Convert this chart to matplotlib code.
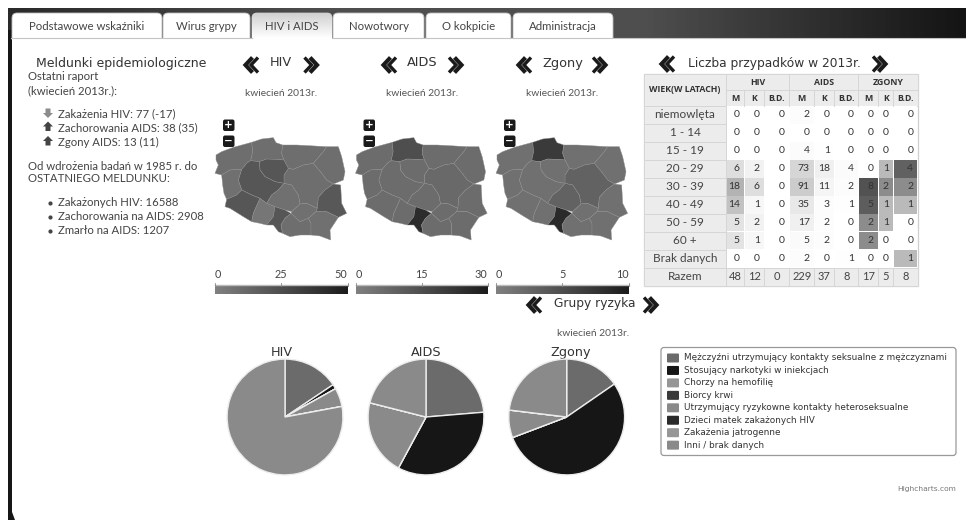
import numpy as np
import matplotlib
matplotlib.use("Agg")
import matplotlib.pyplot as plt
from matplotlib.patches import Rectangle, FancyBboxPatch, Polygon
from matplotlib.colors import LinearSegmentedColormap

UI_FONT = "Lato"
HEAD_FONT = "DejaVu Sans"

tabs = ["Podstawowe wskaźniki", "Wirus grypy", "HIV i AIDS", "Nowotwory", "O kokpicie", "Administracja"]
tab_edges = [(12, 162), (163, 250), (252, 332), (333, 424), (426, 511), (513, 613)]

period = "kwiecień 2013r."
map_titles = ["HIV", "AIDS", "Zgony"]
map_scale_max = [50, 30, 10]

# voivodeship outlines, in map units
regions = {
    "zachodniopomorskie": [(18,135),(35,125),(70,112),(125,97),(128,125),(122,152),(112,158),(95,178),(60,180),(35,195),(15,190),(25,165),(18,150)],
    "pomorskie": [(125,97),(155,87),(190,83),(198,98),(218,105),(215,130),(222,150),(195,148),(170,147),(148,155),(122,152),(128,125)],
    "warminsko-mazurskie": [(218,105),(260,105),(350,110),(340,125),(310,160),(280,165),(250,178),(235,175),(222,150),(215,130)],
    "podlaskie": [(350,110),(385,110),(395,140),(405,185),(400,210),(370,222),(350,210),(335,190),(310,160),(340,125)],
    "mazowieckie": [(235,175),(250,178),(280,165),(310,160),(335,190),(350,210),(370,222),(345,240),(325,262),(322,295),(290,280),(270,282),(265,255),(245,225),(222,220),(222,195)],
    "kujawsko-pomorskie": [(148,155),(170,147),(195,148),(222,150),(235,175),(222,195),(222,220),(195,215),(165,200),(150,180)],
    "wielkopolskie": [(122,152),(148,155),(150,180),(165,200),(195,215),(222,220),(205,240),(185,255),(170,280),(150,265),(125,255),(95,240),(85,210),(95,178),(112,158)],
    "lubuskie": [(35,195),(60,180),(95,178),(85,210),(95,240),(80,255),(50,268),(42,250),(38,225)],
    "dolnoslaskie": [(50,268),(80,255),(95,240),(125,255),(150,265),(130,310),(125,335),(100,320),(60,295),(45,290)],
    "opolskie": [(150,265),(170,280),(195,290),(190,320),(170,345),(150,340),(125,335),(130,310)],
    "lodzkie": [(222,220),(245,225),(265,255),(270,282),(245,305),(225,300),(195,290),(170,280),(185,255),(205,240)],
    "slaskie": [(195,290),(225,300),(243,310),(225,325),(213,345),(218,370),(205,365),(190,345),(170,345),(190,320)],
    "swietokrzyskie": [(270,282),(290,280),(322,295),(318,305),(295,325),(270,335),(243,310),(245,305)],
    "malopolskie": [(213,345),(225,325),(243,310),(270,335),(295,325),(303,340),(303,375),(270,375),(240,380),(218,370)],
    "lubelskie": [(370,222),(392,225),(395,280),(410,310),(385,322),(350,305),(318,305),(322,295),(325,262),(345,240)],
    "podkarpackie": [(295,325),(318,305),(350,305),(385,322),(360,360),(362,390),(330,378),(303,375),(303,340)],
}

# cases per voivodeship
hiv_map = {"zachodniopomorskie": 9, "pomorskie": 9, "warminsko-mazurskie": 9, "podlaskie": 9, "mazowieckie": 9,
           "kujawsko-pomorskie": 21, "wielkopolskie": 21, "lubuskie": 8, "dolnoslaskie": 21, "opolskie": 5,
           "lodzkie": 8, "slaskie": 21, "swietokrzyskie": 8, "malopolskie": 9, "lubelskie": 20, "podkarpackie": 8}
aids_map = {"zachodniopomorskie": 6, "pomorskie": 15, "warminsko-mazurskie": 6, "podlaskie": 6, "mazowieckie": 7,
            "kujawsko-pomorskie": 6, "wielkopolskie": 6, "lubuskie": 6, "dolnoslaskie": 6, "opolskie": 6,
            "lodzkie": 6, "slaskie": 25, "swietokrzyskie": 6, "malopolskie": 6, "lubelskie": 6, "podkarpackie": 6}
zgony_map = {"zachodniopomorskie": 1.6, "pomorskie": 7, "warminsko-mazurskie": 1.6, "podlaskie": 1.6, "mazowieckie": 3,
             "kujawsko-pomorskie": 1.6, "wielkopolskie": 1.6, "lubuskie": 1.6, "dolnoslaskie": 1.6, "opolskie": 1.6,
             "lodzkie": 3, "slaskie": 8.6, "swietokrzyskie": 1.6, "malopolskie": 1.6, "lubelskie": 1.6, "podkarpackie": 1.6}
map_values = [hiv_map, aids_map, zgony_map]

age_groups = ["niemowlęta", "1 - 14", "15 - 19", "20 - 29", "30 - 39", "40 - 49", "50 - 59", "60 +", "Brak danych"]
hiv_table = [[0,0,0],[0,0,0],[0,0,0],[6,2,0],[18,6,0],[14,1,0],[5,2,0],[5,1,0],[0,0,0]]
aids_table = [[2,0,0],[0,0,0],[4,1,0],[73,18,4],[91,11,2],[35,3,1],[17,2,0],[5,2,0],[2,0,1]]
zgony_table = [[0,0,0],[0,0,0],[0,0,0],[0,1,4],[8,2,2],[5,1,1],[2,1,0],[2,0,0],[0,0,1]]
hiv_total = [48, 12, 0]
aids_total = [229, 37, 8]
zgony_total = [17, 5, 8]

risk_groups = ["Mężczyźni utrzymujący kontakty seksualne z mężczyznami", "Stosujący narkotyki w iniekcjach",
               "Chorzy na hemofilię", "Biorcy krwi", "Utrzymujący ryzykowne kontakty heteroseksualne",
               "Dzieci matek zakażonych HIV", "Zakażenia jatrogenne", "Inni / brak danych"]
risk_colors = ["#6b6b6b", "#161616", "#969696", "#3a3a3a", "#8a8a8a", "#2a2a2a", "#969696", "#8a8a8a"]

# counts per risk group, zero groups included
hiv_pie = [12, 1, 0, 0, 4, 0, 0, 60]
aids_pie = [9, 13, 0, 0, 8, 0, 0, 8]
zgony_pie = [2, 7, 0, 0, 1, 0, 0, 3]

fig = plt.figure(figsize=(9.66, 5.2), dpi=100, facecolor="white")
ax = fig.add_axes([0, 0, 1, 1])


def label(x, y, s, size=8.2, color="#444444", ha="left", font=UI_FONT, **kw):
    ax.text(x, y, s, fontsize=size, color=color, ha=ha, va="center", family=font, zorder=5, **kw)


def chevrons(x, y, direction):
    # direction -1 points left, 1 points right
    for off, lw in [(-3.0, 3.0), (2.5, 2.4)]:
        off = off * -direction
        xs = np.array([x + off - direction * 3.5, x + off + direction * 3.5, x + off - direction * 3.5])
        ax.plot(xs, [y - 7.5, y, y + 7.5], color="#1a1a1a", lw=lw, solid_joinstyle="miter", solid_capstyle="butt", zorder=4)


def gradient(x0, x1, y0, y1, cmap, vertical=False, zorder=3):
    g = np.linspace(0, 1, 256)
    g = g[:, None] if vertical else g[None, :]
    return ax.imshow(g, extent=(x0, x1, y1, y0), cmap=cmap, aspect="auto", zorder=zorder, vmin=0, vmax=1)


# page frame
band = LinearSegmentedColormap.from_list("band", ["#2a2a2a", "#4e4e4e", "#4e4e4e", "#141414"])
gradient(8, 966, 9, 38.5, band, zorder=1)
ax.add_patch(Rectangle((8, 30), 4, 490, fc="#161616", ec="none", zorder=1))
ax.add_patch(Polygon([(12, 512), (15, 520), (12, 520)], closed=True, fc="#161616", ec="none", zorder=3))
ax.add_patch(Rectangle((12, 38), 954, 482, fc="white", ec="none", zorder=2))

# tab strip
active = LinearSegmentedColormap.from_list("active", ["#d0d0d0", "#ffffff"])
for name, (x0, x1) in zip(tabs, tab_edges):
    tab = FancyBboxPatch((x0, 13), x1 - x0, 30, boxstyle="round,pad=0,rounding_size=5",
                         fc="white", ec="#bdbdbd", lw=0.6, zorder=1.5)
    ax.add_patch(tab)
    if name == "HIV i AIDS":
        im = gradient(x0, x1, 13, 38, active, vertical=True, zorder=1.6)
        im.set_clip_path(tab)
    label((x0 + x1) / 2, 26.5, name, size=8.2, ha="center")
ax.plot([11, 252], [38, 38], color="#c4c4c4", lw=0.8, zorder=3)
ax.plot([332, 966], [38, 38], color="#c4c4c4", lw=0.8, zorder=3)

# left column
label(36, 63, "Meldunki epidemiologiczne", size=9, font=HEAD_FONT, color="#333333")
label(28, 76, "Ostatni raport")
label(28, 91, "(kwiecień 2013r.):")
report_rows = ["Zakażenia HIV: 77 (-17)", "Zachorowania AIDS: 38 (35)", "Zgony AIDS: 13 (11)"]
for y, s, up, col in zip([114, 127.5, 142], report_rows, [False, True, True], ["#8c8c8c", "#444444", "#444444"]):
    d = 1 if up else -1
    yc = y - 1
    ax.add_patch(Polygon([(43, yc), (48, yc - d * 5), (53, yc), (50.5, yc), (50.5, yc + d * 4.5),
                          (45.5, yc + d * 4.5), (45.5, yc)], closed=True, fc=col, ec="none", zorder=5))
    label(58, y, s)
label(28, 166, "Od wdrożenia badań w 1985 r. do")
label(28, 179, "OSTATNIEGO MELDUNKU:")
since_rows = ["Zakażonych HIV: 16588", "Zachorowania na AIDS: 2908", "Zmarło na AIDS: 1207"]
for y, s in zip([203, 217, 231], since_rows):
    ax.plot([50], [y], "o", ms=2, color="#444444", zorder=5)
    label(58, y, s)

# choropleth panels
map_cmap = LinearSegmentedColormap.from_list("map", ["#808080", "#1c1c1c"])
bar_x = [(215, 347.5), (355.7, 487.7), (496, 628.7)]
title_x = [281, 422, 562.5]
arrow_x = [(252, 310.5), (390, 455), (525, 599)]
for i, (title, vmax, values) in enumerate(zip(map_titles, map_scale_max, map_values)):
    dx = i * 140.5
    label(title_x[i], 63, title, size=9.3, font=HEAD_FONT, ha="center", color="#333333")
    chevrons(arrow_x[i][0], 65, -1)
    chevrons(arrow_x[i][1], 65, 1)
    label(title_x[i], 94, period, size=7.4, ha="center", color="#555555")
    for name, outline in regions.items():
        pts = [(210 + dx + px / 3, 110 + py / 3) for px, py in outline]
        ax.add_patch(Polygon(pts, closed=True, fc=map_cmap(values[name] / vmax), ec="#8c8c8c", lw=0.3, zorder=3))
    for y, sign in [(125, "+"), (141, "\u2212")]:
        ax.add_patch(FancyBboxPatch((223 + dx, y - 5.5), 11.5, 11.5, boxstyle="round,pad=0,rounding_size=2", fc="#1a1a1a", ec="none", zorder=4))
        ax.text(228.7 + dx, y - 0.1, sign, color="white", fontsize=7.5, fontweight="bold", ha="center", va="center", zorder=5)
    # scale bar under the map
    x0, x1 = bar_x[i]
    gradient(x0, x1, 287, 294.5, map_cmap)
    ax.plot([x0, x1], [285.3, 285.3], color="#bbbbbb", lw=1, zorder=3)
    for frac, tick, ha in [(0, 0, "left"), (0.5, vmax // 2, "center"), (1, vmax, "right")]:
        tx = x0 + frac * (x1 - x0)
        ax.plot([tx, tx], [283, 286], color="#888888", lw=0.6, zorder=3)
        label(tx, 274, str(tick), size=7.8, ha=ha)

# age table
label(774, 63, "Liczba przypadków w 2013r.", size=8.8, font=HEAD_FONT, ha="center", color="#333333")
chevrons(668, 64, -1)
chevrons(879, 64, 1)

col_edges = [725.7, 744.3, 764.3, 789.3, 814.3, 834.3, 858.3, 878.3, 893.3, 917.7]
row_h = 17.97
row_top = 106
table_left = 644.3
header_fc = "#ececec"
cell_ec = "#d6d6d6"


def heat_level(v, group):
    stops, levels = {
        0: ([0, 1, 2, 5, 6, 14, 18], [1, 0.97, 0.95, 0.89, 0.87, 0.76, 0.7]),
        1: ([0, 2, 5, 11, 18, 35, 73, 91], [1, 0.99, 0.98, 0.96, 0.94, 0.91, 0.84, 0.8]),
        2: ([0, 1, 2, 4, 8], [1, 0.73, 0.55, 0.38, 0.32]),
    }[group]
    return float(np.interp(v, stops, levels))


def bold(x, y, s, size=6.3):
    ax.text(x, y, s, fontsize=size, fontweight="bold", ha="center", va="center", color="#333333", family="Open Sans", zorder=5)


tbl_parts = [hiv_table, aids_table, zgony_table]
totals = hiv_total + aids_total + zgony_total
ax.add_patch(Rectangle((table_left, 74), col_edges[-1] - table_left, 211.7, fc="white", ec="#cfcfcf", lw=0.9, zorder=3))
ax.add_patch(Rectangle((table_left, 74), col_edges[0] - table_left, 32, fc=header_fc, ec=cell_ec, lw=0.7, zorder=3))
bold((table_left + col_edges[0]) / 2, 90, "WIEK(W LATACH)")
for g, name in enumerate(["HIV", "AIDS", "ZGONY"]):
    x0, x1 = col_edges[g * 3], col_edges[g * 3 + 3]
    ax.add_patch(Rectangle((x0, 74), x1 - x0, 16, fc=header_fc, ec=cell_ec, lw=0.7, zorder=3))
    bold((x0 + x1) / 2, 82.5, name)
    for c, sub in enumerate(["M", "K", "B.D."]):
        cx0, cx1 = col_edges[g * 3 + c], col_edges[g * 3 + c + 1]
        ax.add_patch(Rectangle((cx0, 90), cx1 - cx0, 16, fc=header_fc, ec=cell_ec, lw=0.7, zorder=3))
        bold((cx0 + cx1) / 2, 98.5, sub)
        for r, age in enumerate(age_groups):
            v = tbl_parts[g][r][c]
            y0 = row_top + r * row_h
            ax.add_patch(Rectangle((cx0 + 0.3, y0 + 0.3), cx1 - cx0 - 0.6, row_h - 0.6, fc=str(heat_level(v, g)), ec="none", zorder=3))
            label(cx1 - 4.5, y0 + row_h / 2, str(v), size=7.5, ha="right", color="#333333")
for r, age in enumerate(age_groups + ["Razem"]):
    y0 = row_top + r * row_h
    ax.add_patch(Rectangle((table_left, y0), col_edges[0] - table_left, row_h, fc=header_fc, ec=cell_ec, lw=0.7, zorder=3))
    label((table_left + col_edges[0]) / 2, y0 + row_h / 2, age, size=8.5, ha="center")
y0 = row_top + 9 * row_h
for c, v in enumerate(totals):
    cx0, cx1 = col_edges[c], col_edges[c + 1]
    ax.add_patch(Rectangle((cx0, y0), cx1 - cx0, row_h, fc=header_fc, ec=cell_ec, lw=0.7, zorder=3))
    label((cx0 + cx1) / 2, y0 + row_h / 2, str(v), size=8, ha="center")

# risk group pies
label(554, 304, "Grupy ryzyka", size=8.8, font=HEAD_FONT, color="#333333")
chevrons(535, 305, -1)
chevrons(650, 305, 1)
label(629, 334, period, size=7.4, ha="right", color="#555555")

pie_centers = [285, 426, 566.7]
pie_title_x = [281.7, 426, 570.7]
pie_radius = 58.5
pie_labels = ["HIV", "AIDS", "Zgony"]
for cx, tx, vals, title in zip(pie_centers, pie_title_x, [hiv_pie, aids_pie, zgony_pie], pie_labels):
    pie_ax = fig.add_axes([(cx - pie_radius) / 966, 1 - (417 + pie_radius) / 520,
                           2 * pie_radius / 966, 2 * pie_radius / 520])
    pie_ax.pie(vals, colors=risk_colors, startangle=90, counterclock=False, radius=0.99,
               wedgeprops={"edgecolor": "#ececec", "linewidth": 1.0})
    pie_ax.set_xlim(-1, 1)
    pie_ax.set_ylim(-1, 1)
    label(tx, 352.5, title, size=9.2, font=HEAD_FONT, ha="center", color="#333333")

# legend box
ax.add_patch(FancyBboxPatch((661, 347.5), 295, 108, boxstyle="round,pad=0,rounding_size=3", fc="white", ec="#999999", lw=0.9, zorder=3))
for i, (name, col) in enumerate(zip(risk_groups, risk_colors)):
    y = 358 + i * 12.45
    ax.add_patch(FancyBboxPatch((667, y - 4.5), 12, 9, boxstyle="round,pad=0,rounding_size=1", fc=col, ec="none", zorder=4))
    label(683.5, y, name, size=6.4, font=HEAD_FONT, color="#333333")

label(956.5, 489, "Highcharts.com", size=5.4, ha="right", font=HEAD_FONT, color="#777777")

ax.set_xlim(0, 966)
ax.set_ylim(520, 0)
ax.axis("off")

fig.savefig("out.png", dpi=100, facecolor="white")
